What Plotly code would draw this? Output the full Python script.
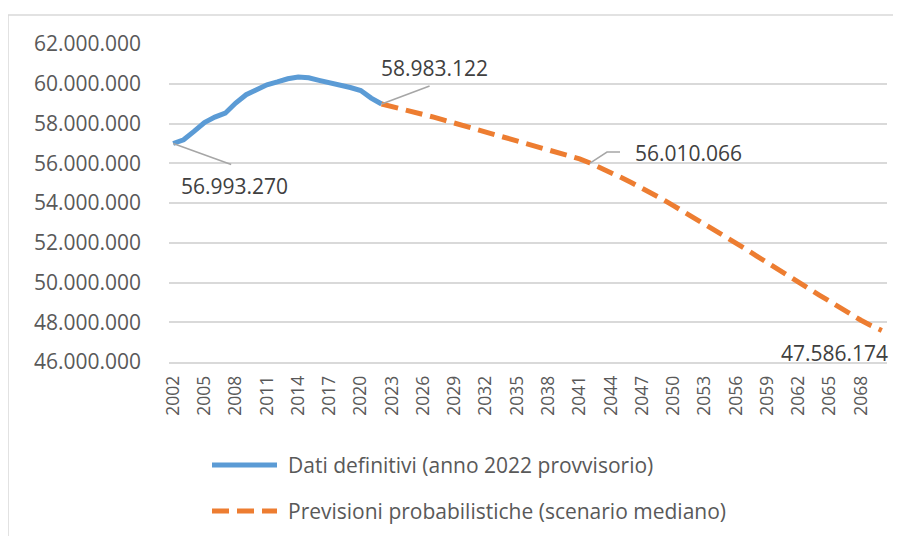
import plotly.graph_objects as go

# ---------------- data ----------------
years_def = list(range(2002, 2023))
pop_def = [56993270, 57180000, 57600000, 58050000, 58320000, 58520000, 59030000,
           59450000, 59700000, 59950000, 60090000, 60250000, 60340000, 60300000,
           60170000, 60070000, 59930000, 59810000, 59660000, 59280000, 58983122]

years_prev = list(range(2022, 2071))
pop_prev = [58983122, 58860000, 58730000, 58600000, 58460000, 58320000, 58170000,
            58020000, 57860000, 57710000, 57560000, 57410000, 57270000, 57160000,
            57010000, 56860000, 56710000, 56560000, 56410000, 56220000, 56010066,
            55780000, 55530000, 55280000, 55020000, 54750000, 54480000, 54180000,
            53870000, 53560000, 53250000, 52930000, 52650000, 52330000, 52000000,
            51670000, 51330000, 50990000, 50650000, 50330000, 50010000, 49690000,
            49370000, 49040000, 48710000, 48390000, 48100000, 47830000, 47586174]

name_def = "Dati definitivi (anno 2022 provvisorio)"
name_prev = "Previsioni probabilistiche (scenario mediano)"

y_ticks = [46000000, 48000000, 50000000, 52000000, 54000000, 56000000, 58000000, 60000000, 62000000]
x_ticks = list(range(2002, 2069, 3))

labels = [  # (year, value, text)
    (2002, 56993270, "56.993.270"),
    (2022, 58983122, "58.983.122"),
    (2042, 56010066, "56.010.066"),
    (2070, 47586174, "47.586.174"),
]

# ---------------- style ----------------
BLUE = "#5B9BD5"
ORANGE = "#ED7D31"
GRID = "#D9D9D9"
TXT = "#595959"
LBL = "#404040"
LEADER = "#A6A6A6"
FONT = "Open Sans"
DASH = "17px,8px"

fig = go.Figure()
fig.add_trace(go.Scatter(x=years_def, y=pop_def, mode="lines", name=name_def,
                         line=dict(color=BLUE, width=5), showlegend=False))
fig.add_trace(go.Scatter(x=years_prev, y=pop_prev, mode="lines", name=name_prev,
                         line=dict(color=ORANGE, width=5, dash=DASH), showlegend=False))

# data labels (offsets in px from the point)
offsets = [(61, -42), (53, 36), (98, 10), (-47, -23)]
for (yr, v, t), (dx, dy) in zip(labels, offsets):
    fig.add_annotation(x=yr, y=v, text=t, showarrow=False, xshift=dx, yshift=dy,
                       font=dict(family=FONT, size=21, color=LBL))

# leader lines (pixel offsets anchored at data points)
leaders = [(2002, 56993270, "M0,0 L58,-21"),
           (2022, 58983122, "M0,0 L48,18"),
           (2042, 56010066, "M0,0 L17,11 L30,11")]
for yr, v, p in leaders:
    fig.add_shape(type="path", xref="x", yref="y", xsizemode="pixel", ysizemode="pixel",
                  xanchor=yr, yanchor=v, path=p, line=dict(color=LEADER, width=1.5))

# geometry helpers: screen px -> paper fraction (plot area on screen: x 169..887, y 44..362)
def px_x(px):
    return (px - 169) / 718.0

def px_y(py):
    return (362 - py) / 318.0

# chart border
fig.add_shape(type="rect", xref="paper", yref="paper", x0=px_x(8), x1=px_x(920),
              y0=px_y(560), y1=px_y(15), line=dict(color=GRID, width=1.5), layer="below")

# manual legend
legend_rows = [(name_def, BLUE, "solid", 465), (name_prev, ORANGE, DASH, 511)]
for nm, col, dash, py in legend_rows:
    fig.add_shape(type="line", xref="paper", yref="paper", x0=px_x(212), x1=px_x(277),
                  y0=px_y(py), y1=px_y(py), line=dict(color=col, width=5, dash=dash))
    fig.add_annotation(xref="paper", yref="paper", x=px_x(286), y=px_y(py), text=nm,
                       showarrow=False, xanchor="left", yanchor="middle",
                       font=dict(family=FONT, size=21, color=TXT))

# the page body adds an 8px offset, so the figure margins are reduced by 8px
fig.update_layout(
    width=901, height=536,
    margin=dict(l=161, r=22, t=36, b=182),
    paper_bgcolor="white", plot_bgcolor="white",
    separators=",.",
    showlegend=False,
    font=dict(family=FONT, color=TXT, size=21),
)
fig.update_xaxes(range=[2001.6, 2070.5], tickmode="array", tickvals=x_ticks,
                 ticktext=[str(t) for t in x_ticks], tickangle=-90,
                 showgrid=False, zeroline=False, showline=True, linecolor=GRID, linewidth=1.5,
                 ticks="", ticklabelstandoff=5, tickfont=dict(family=FONT, size=17.5, color=TXT))
fig.update_yaxes(range=[46000000, 62000000], tickmode="array", tickvals=y_ticks,
                 tickformat=",d", showgrid=True, gridcolor=GRID, gridwidth=1.5,
                 zeroline=False, showline=False, ticks="", ticklabelstandoff=27,
                 tickfont=dict(family=FONT, size=21, color=TXT))

fig.write_html("out.html")
